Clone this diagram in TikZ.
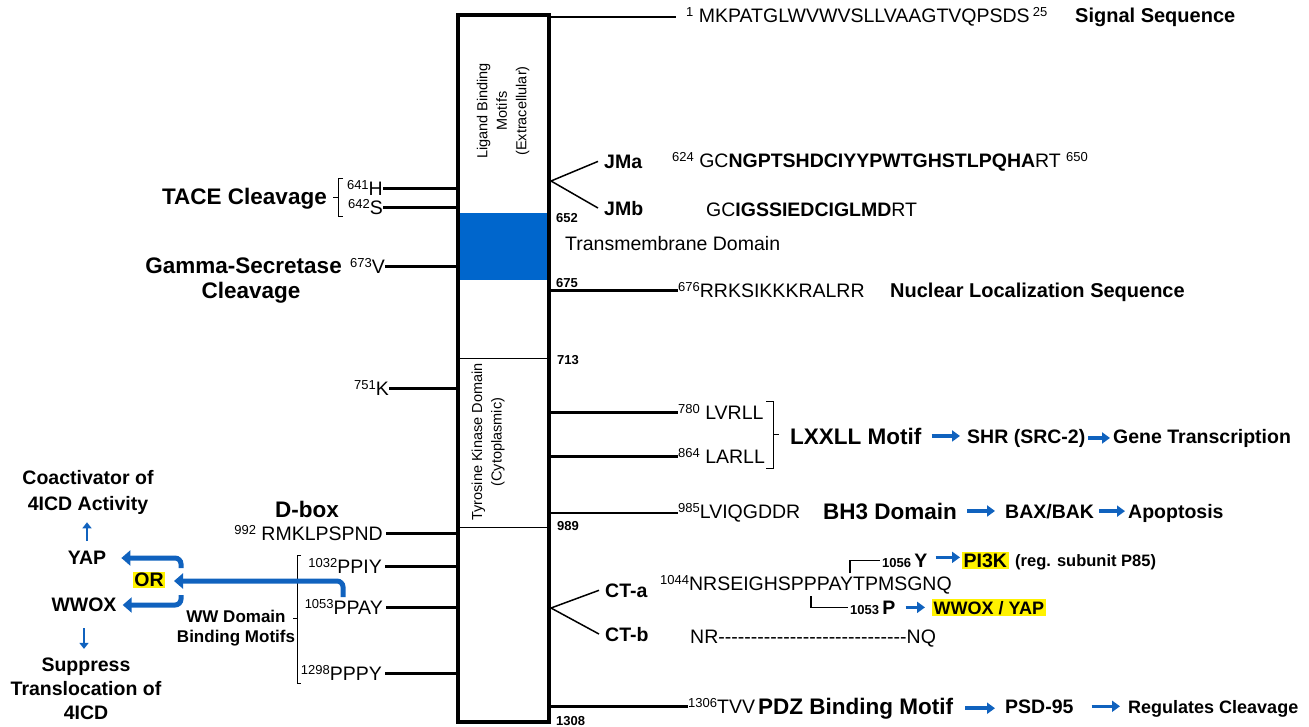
\documentclass[tikz,border=0pt]{standalone}
\usepackage{fontspec}
\setmainfont{Liberation Sans}
\usetikzlibrary{arrows.meta}
\definecolor{tmblue}{RGB}{0,102,204}
\definecolor{flowblue}{RGB}{16,98,190}
\newcommand{\resnum}[1]{\smash{\raisebox{0.27em}{\fontsize{13}{13}\selectfont #1}}}

\begin{document}
\begin{tikzpicture}[x=1pt, y=-1pt,
  seq/.style={inner sep=0, font=\fontsize{19.5}{22}\selectfont},
  biglab/.style={inner sep=0, font=\fontsize{22.5}{26}\selectfont\bfseries},
  midlab/.style={inner sep=0, font=\fontsize{19.5}{24}\selectfont\bfseries},
  smalllab/.style={inner sep=0, font=\fontsize{17}{20}\selectfont\bfseries},
  numlab/.style={inner sep=0, font=\fontsize{13}{15}\selectfont\bfseries, anchor=base west},
  stem/.style={line width=2.5pt},
  flow/.style={flowblue, line width=3.5pt, -{Triangle[length=8pt, width=11pt]}},
  updown/.style={flowblue, line width=2.5pt, -{Triangle[length=6pt, width=9pt]}},
  choice/.style={flowblue, line width=5pt, rounded corners=6pt, -{Triangle[length=9pt, width=15pt]}},
  hilite/.style={fill=yellow, inner sep=1.5pt}]

  \useasboundingbox (0,0) rectangle (1309,726);

  \fill[tmblue] (458,213) rectangle (549,280);
  \node[draw, line width=4pt, minimum width=91pt, minimum height=707pt, inner sep=0] (box) at (503.5,368.5) {};
  \draw[line width=0.8pt] (box.west |- 0,358) -- (box.east |- 0,358);
  \draw[line width=0.8pt] (box.west |- 0,527) -- (box.east |- 0,527);
  \node[rotate=90, align=center, font=\fontsize{14.5}{19.5}\selectfont] (ligand) at (503,111) {Ligand Binding\\Motifs\\(Extracellular)};
  \node[rotate=90, align=center, font=\fontsize{14.5}{19.5}\selectfont] (tkd) at (488,442) {Tyrosine Kinase Domain\\(Cytoplasmic)};

  \node[seq, anchor=base west] (sig) at (686,22) {\resnum{1} MKPATGLWVWVSLLVAAGTVQPSDS\,\resnum{25}};
  \node[midlab, anchor=base west, font=\fontsize{20}{24}\selectfont\bfseries] (signame) at (1075,22) {Signal Sequence};
  \draw[stem] (box.north east |- sig.west) -- ([xshift=-10pt]sig.west);

  \coordinate (jmfork) at (box.east |- 0,181);
  \node[midlab, anchor=base west] (jma) at (604,168) {JMa};
  \node[midlab, anchor=base west] (jmb) at (604,215) {JMb};
  \draw[line width=1.5pt] ([xshift=-6pt]jma.west) -- (jmfork) -- ([xshift=-6pt]jmb.west);
  \node[seq, anchor=base west] (jmaseq) at (672,167) {\resnum{624} GC\textbf{NGPTSHDCIYYPWTGHSTLPQHA}RT \resnum{650}};
  \node[seq, anchor=base west] (jmbseq) at (706,216) {GC\textbf{IGSSIEDCIGLMD}RT};

  \node[numlab] (n652) at (556,222) {652};
  \node[seq, anchor=base west] (tmname) at (565,250) {Transmembrane Domain};
  \node[numlab] (n675) at (556,287) {675};
  \node[seq, anchor=base west] (nls) at (678,297) {\resnum{676}RRKSIKKKRALRR};
  \node[midlab, anchor=base west, font=\fontsize{20}{24}\selectfont\bfseries] (nlsname) at (890,297) {Nuclear Localization Sequence};
  \draw[stem] (box.east |- nls.west) -- (nls.west);
  \node[numlab] (n713) at (557,364) {713};

  \node[seq, anchor=base west] (lvrll) at (678,419) {\resnum{780} LVRLL};
  \node[seq, anchor=base west] (larll) at (678,463) {\resnum{864} LARLL};
  \draw[stem] (box.east |- lvrll.west) -- (lvrll.west);
  \draw[stem] (box.east |- larll.west) -- (larll.west);
  \draw[line width=0.8pt] (766,401) -- (773,401) -- (773,468) -- (766,468) (773,434) -- (779,434);
  \node[biglab, anchor=base west] (lxxll) at (790,444) {LXXLL Motif};
  \node[midlab, anchor=base west] (shr) at (967,443) {SHR (SRC-2)};
  \node[midlab, anchor=base west] (gene) at (1113,443) {Gene Transcription};
  \draw[flow, shorten <=10pt, shorten >=7pt] (lxxll.east) -- (lxxll.east -| shr.west);
  \draw[flow, shorten <=3pt, shorten >=3pt] (shr.east) -- (shr.east -| gene.west);

  \node[seq, anchor=base west] (bh3seq) at (678,518) {\resnum{985}LVIQGDDR};
  \draw[stem] (box.east |- bh3seq.west) -- (bh3seq.west);
  \node[biglab, anchor=base west] (bh3) at (823,519) {BH3 Domain};
  \node[midlab, anchor=base west] (bax) at (1005,518) {BAX/BAK};
  \node[midlab, anchor=base west] (apop) at (1128,518) {Apoptosis};
  \draw[flow, shorten <=10pt, shorten >=10pt] (bh3.east) -- (bh3.east -| bax.west);
  \draw[flow, shorten <=5pt, shorten >=3pt] (bax.east) -- (bax.east -| apop.west);
  \node[numlab] (n989) at (557,530) {989};

  \coordinate (ctfork) at (box.east |- 0,608);
  \node[midlab, anchor=base west] (cta) at (605,597) {CT-a};
  \node[midlab, anchor=base west] (ctb) at (605,641) {CT-b};
  \draw[line width=1.5pt] ([xshift=-6pt]cta.west) -- (ctfork) -- ([xshift=-6pt]ctb.west);
  \node[seq, anchor=base west] (ctaseq) at (660,590) {\resnum{1044}NRSEIGHSPPPAYTPMSGNQ};
  \node[seq, anchor=base west] (ctbseq) at (690,643) {NR-{}-{}-{}-{}-{}-{}-{}-{}-{}-{}-{}-{}-{}-{}-{}-{}-{}-{}-{}-{}-{}-{}-{}-{}-{}-{}-{}-{}-{}NQ};

  \coordinate (tyr) at (850,573);
  \coordinate (pro) at (811,596);
  \node[inner sep=0, font=\fontsize{19.5}{22}\selectfont\bfseries, anchor=base west] (y1056) at (882,567) {{\fontsize{13}{13}\selectfont 1056}\,Y};
  \node[midlab, hilite, anchor=base west] (pi3k) at (962,567) {PI3K};
  \node[midlab, anchor=base west, font=\fontsize{16.5}{20}\selectfont\bfseries] (p85) at (1015,566) {(reg. subunit P85)};
  \draw[line width=1.2pt] (tyr) |- ([xshift=-2pt]y1056.west);
  \draw[flow, shorten <=8pt, shorten >=2pt] ([yshift=3pt]y1056.east) -- ([yshift=3pt]y1056.east -| pi3k.west);
  \node[inner sep=0, font=\fontsize{19.5}{22}\selectfont\bfseries, anchor=base west] (p1053) at (850,614) {{\fontsize{13}{13}\selectfont 1053}\,P};
  \node[midlab, hilite, anchor=base west, font=\fontsize{18}{22}\selectfont\bfseries] (wwyap) at (932,614) {WWOX / YAP};
  \draw[line width=1.2pt] (pro) |- ([xshift=-2pt]p1053.west);
  \draw[flow, shorten <=10pt, shorten >=7pt] (p1053.east) -- (p1053.east -| wwyap.west);

  \node[seq, anchor=base west] (tvv) at (688,713) {\resnum{1306}TVV};
  \draw[stem] (box.east |- tvv.west) -- (tvv.west);
  \node[biglab, anchor=base west] (pdz) at (758,714) {PDZ Binding Motif};
  \node[midlab, anchor=base west] (psd) at (1005,713) {PSD-95};
  \node[midlab, anchor=base west, font=\fontsize{18}{22}\selectfont\bfseries] (regcl) at (1128,713) {Regulates Cleavage};
  \draw[flow, shorten <=12pt, shorten >=10pt] (pdz.east) -- (pdz.east -| psd.west);
  \draw[flow, shorten <=18pt, shorten >=8pt] (psd.east) -- (psd.east -| regcl.west);
  \node[numlab] (n1308) at (556,725) {1308};

  \node[seq, anchor=base east] (h641) at (383,195) {\resnum{641}H};
  \node[seq, anchor=base east] (s642) at (383,214) {\resnum{642}S};
  \draw[stem] (h641.east) -- (h641.east -| box.west);
  \draw[stem] (s642.east) -- (s642.east -| box.west);
  \draw[line width=0.8pt] (343,178) -- (338,178) -- (338,216) -- (343,216) (338,197) -- (333,197);
  \node[biglab, anchor=base east] (tace) at (327,204) {TACE Cleavage};

  \node[seq, anchor=base east] (v673) at (385,273) {\resnum{673}V};
  \draw[stem] (v673.east) -- (v673.east -| box.west);
  \node[biglab, anchor=base east] (gamma) at (342,273) {Gamma-Secretase};
  \node[biglab, anchor=base] (gammab) at (251,298) {Cleavage};

  \node[seq, anchor=base east] (k751) at (389,395) {\resnum{751}K};
  \draw[stem] (k751.east) -- (k751.east -| box.west);

  \node[biglab, anchor=base] (dbox) at (307,517) {D-box};
  \node[seq, anchor=base east] (rmk) at (383,540) {\resnum{992} RMKLPSPND};
  \node[seq, anchor=base east] (ppiy) at (382,573) {\resnum{1032}PPIY};
  \node[seq, anchor=base east] (ppay) at (383,614) {\resnum{1053}PPAY};
  \node[seq, anchor=base east] (pppy) at (382,680) {\resnum{1298}PPPY};
  \foreach \n in {rmk, ppiy, ppay, pppy}
    \draw[stem] ([xshift=3pt]\n.east) -- (\n.east -| box.west);
  \draw[line width=0.8pt] (301,555) -- (297,555) -- (297,683) -- (301,683) (297,618) -- (293,618);
  \node[smalllab, align=center] (wwdom) at (236,628) {WW Domain\\Binding Motifs};

  \node[midlab] (yap) at (87,558) {YAP};
  \node[midlab] (wwox) at (84,605) {WWOX};
  \node[midlab, hilite] (orlab) at (149,580) {OR};
  \node[midlab, align=center, font=\fontsize{19.5}{26}\selectfont\bfseries] (coact) at (88,492) {Coactivator of\\4ICD Activity};
  \node[midlab, align=center, font=\fontsize{19.5}{24}\selectfont\bfseries] (suppr) at (86,689) {Suppress\\Translocation of\\4ICD};
  \coordinate (ppayhook) at (343,597);
  \coordinate (orjoin) at (181,581);
  \coordinate (yapfork) at (181,568);
  \coordinate (wwoxfork) at (181,595);
  \draw[choice, shorten >=-7pt] (ppayhook) |- (orjoin);
  \draw[choice] (yapfork) |- ([xshift=15pt]yap.east);
  \draw[choice] (wwoxfork) |- ([xshift=6pt]wwox.east);
  \draw[updown, shorten <=10pt, shorten >=8pt] (yap.north) -- (yap.north |- coact.south);
  \draw[updown, shorten <=16pt, shorten >=9pt] (wwox.south) -- (wwox.south |- suppr.north);
\end{tikzpicture}
\end{document}
